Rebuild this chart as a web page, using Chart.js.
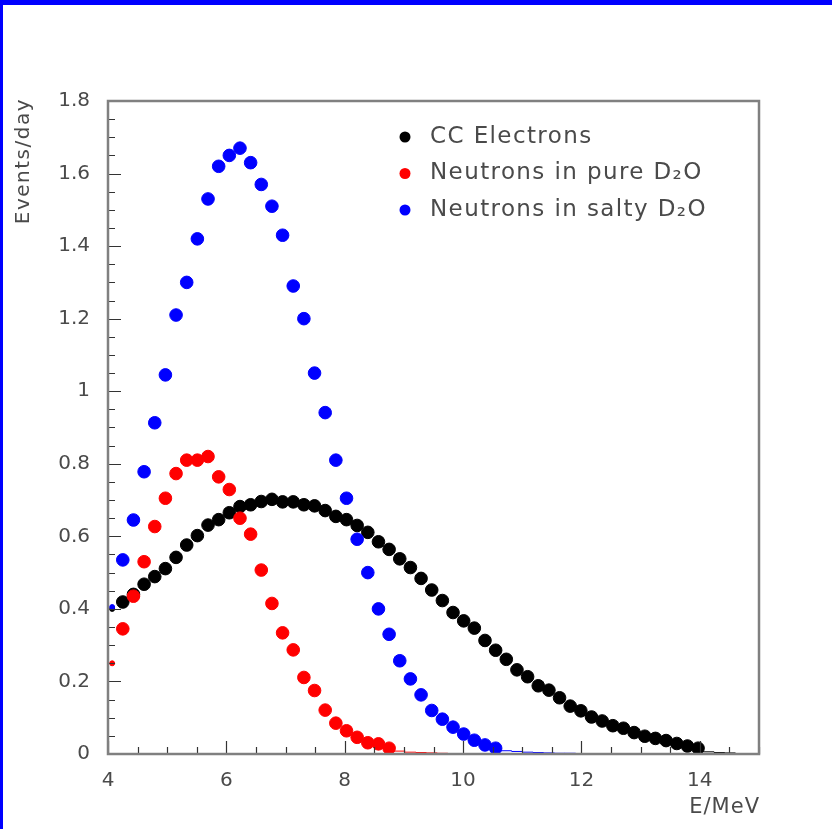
<!DOCTYPE html>
<html>
<head>
<meta charset="utf-8">
<title>Events/day vs E/MeV</title>
<script src="https://cdn.jsdelivr.net/npm/chart.js@4.4.1/dist/chart.umd.min.js"></script>
<style>
  html, body { margin: 0; padding: 0; background: #fff; }
  #page { position: relative; width: 832px; height: 829px; overflow: hidden; }
  #edge {
    position: absolute; left: 0; top: 0; right: 0; bottom: 0;
    border-top: 5px solid #0000ff; border-left: 3px solid #0000ff;
  }
  #wrap { position: absolute; left: 0; top: 0; width: 832px; height: 829px; }
</style>
</head>
<body>
<div id="page">
  <div id="edge"></div>
  <div id="wrap"><canvas id="spectrum"></canvas></div>
</div>
<script>
// bin centres in MeV, shared by the three spectra
const energies = [
  4.07, 4.25, 4.43, 4.61, 4.79, 4.97, 5.15, 5.33, 5.51, 5.69,
  5.87, 6.05, 6.23, 6.41, 6.59, 6.77, 6.95, 7.13, 7.31, 7.49,
  7.67, 7.85, 8.03, 8.21, 8.39, 8.57, 8.75, 8.93, 9.11, 9.29,
  9.47, 9.65, 9.83, 10.01, 10.19, 10.37, 10.55, 10.73, 10.91, 11.09,
  11.27, 11.45, 11.63, 11.81, 11.99, 12.17, 12.35, 12.53, 12.71, 12.89,
  13.07, 13.25, 13.43, 13.61, 13.79, 13.97, 14.15, 14.33, 14.51
];

// events/day per bin
const ccElectrons = [
  0.400, 0.419, 0.440, 0.468, 0.489, 0.511, 0.542, 0.576, 0.602, 0.631,
  0.646, 0.665, 0.682, 0.687, 0.696, 0.702, 0.695, 0.695, 0.687, 0.684,
  0.671, 0.655, 0.646, 0.630, 0.611, 0.585, 0.564, 0.538, 0.514, 0.484,
  0.452, 0.423, 0.390, 0.367, 0.347, 0.313, 0.286, 0.261, 0.232, 0.213,
  0.188, 0.176, 0.155, 0.132, 0.119, 0.102, 0.091, 0.078, 0.071, 0.059,
  0.049, 0.043, 0.037, 0.029, 0.022, 0.016, 0.006, 0.004, 0.003
];
const neutronsPure = [
  0.250, 0.345, 0.435, 0.530, 0.627, 0.705, 0.773, 0.810, 0.810, 0.820,
  0.764, 0.729, 0.650, 0.606, 0.507, 0.415, 0.334, 0.287, 0.211, 0.175,
  0.121, 0.085, 0.064, 0.046, 0.031, 0.028, 0.016, 0.008, 0.005, 0.004,
  0.003, 0.002, 0.001
];
const neutronsSalty = [
  0.405, 0.535, 0.645, 0.778, 0.913, 1.045, 1.210, 1.300, 1.420, 1.530,
  1.620, 1.650, 1.670, 1.630, 1.570, 1.510, 1.430, 1.290, 1.200, 1.050,
  0.941, 0.810, 0.705, 0.592, 0.500, 0.400, 0.330, 0.257, 0.207, 0.163,
  0.120, 0.096, 0.074, 0.055, 0.038, 0.025, 0.016, 0.009, 0.007, 0.005,
  0.004, 0.003, 0.002, 0.002, 0.001, 0.001, 0.001
];

const seriesNames = ["CC Electrons", "Neutrons in pure D\u2082O", "Neutrons in salty D\u2082O"];
const seriesColors = ["#000000", "#ff0000", "#0000ff"];

const xTicks = [4, 6, 8, 10, 12, 14];
const yTicks = [0, 0.2, 0.4, 0.6, 0.8, 1, 1.2, 1.4, 1.6, 1.8];

const FONT = "'DejaVu Sans', sans-serif";
const TEXT = "#4a4a4a";

const toPoints = (vals) => vals.map((v, i) => ({ x: energies[i], y: v }));

// tiny bins show only as a short dash, the first bin sits on the frame
const isTiny = (ctx) => ctx.dataIndex > 0 && ctx.raw && ctx.raw.y < 0.012;
const markerRadius = (ctx) => {
  if (ctx.dataIndex === 0) return 2.5;
  return isTiny(ctx) ? 5.5 : 6.3;
};
const markerStyle = (ctx) => (isTiny(ctx) ? "line" : "circle");

const makeDataset = (idx, vals, order) => ({
  label: seriesNames[idx],
  data: toPoints(vals),
  order: order,
  clip: 0,
  showLine: false,
  backgroundColor: seriesColors[idx],
  borderColor: seriesColors[idx],
  borderWidth: 1,
  pointRadius: markerRadius,
  pointStyle: markerStyle,
  pointHoverRadius: markerRadius,
});

// ROOT style frame with inward ticks, axis titles and an in-frame legend
const frameAndLegend = {
  id: "frameAndLegend",
  afterDatasetsDraw(chart) {
    const { ctx, chartArea: a, scales } = chart;
    const x = scales.x;
    const y = scales.y;
    ctx.save();

    ctx.strokeStyle = "#333";
    ctx.lineWidth = 1.2;
    ctx.beginPath();
    for (let v = 4; v <= 15.001; v += 0.5) {
      const px = Math.round(x.getPixelForValue(v)) + 0.5;
      const len = Math.abs(v % 2) < 0.001 ? 13 : 7;
      ctx.moveTo(px, a.bottom);
      ctx.lineTo(px, a.bottom - len);
    }
    for (let v = 0; v <= 1.8001; v += 0.05) {
      const py = Math.round(y.getPixelForValue(v)) + 0.5;
      const major = Math.abs(Math.round(v * 5) - v * 5) < 0.001;
      ctx.moveTo(a.left, py);
      ctx.lineTo(a.left + (major ? 13 : 7), py);
    }
    ctx.stroke();

    ctx.strokeStyle = "#808080";
    ctx.lineWidth = 2.5;
    ctx.strokeRect(a.left, a.top, a.right - a.left, a.bottom - a.top);

    // axis titles
    ctx.fillStyle = TEXT;
    ctx.textBaseline = "middle";
    ctx.textAlign = "right";
    ctx.font = "21px " + FONT;
    ctx.letterSpacing = "1px";
    ctx.fillText("E/MeV", a.right + 1, 808);
    ctx.font = "20px " + FONT;
    ctx.letterSpacing = "1.5px";
    ctx.save();
    ctx.translate(24, a.top - 3);
    ctx.rotate(-Math.PI / 2);
    ctx.fillText("Events/day", 0, 0);
    ctx.restore();

    // legend
    ctx.font = "23px " + FONT;
    ctx.letterSpacing = "1.4px";
    ctx.textAlign = "left";
    chart.data.datasets.forEach((ds, i) => {
      const rowY = 137 + i * 36.5;
      ctx.fillStyle = ds.backgroundColor;
      ctx.beginPath();
      ctx.arc(405, rowY, 5.5, 0, Math.PI * 2);
      ctx.fill();
      ctx.fillStyle = TEXT;
      ctx.fillText(ds.label, 430, rowY);
    });
    ctx.restore();
  },
};

new Chart(document.getElementById("spectrum"), {
  type: "scatter",
  data: {
    datasets: [
      makeDataset(0, ccElectrons, 3),
      makeDataset(1, neutronsPure, 2),
      makeDataset(2, neutronsSalty, 1),
    ],
  },
  options: {
    responsive: true,
    maintainAspectRatio: false,
    animation: false,
    layout: { padding: { top: 101, right: 73, left: 0, bottom: 0 } },
    scales: {
      x: {
        type: "linear",
        min: 4,
        max: 15,
        afterBuildTicks: (scale) => {
          scale.ticks = xTicks.map((v) => ({ value: v }));
        },
        afterFit: (scale) => {
          scale.height = 75;
        },
        grid: { display: false, drawTicks: false },
        border: { display: false },
        ticks: {
          color: TEXT,
          padding: 15,
          maxRotation: 0,
          font: { family: FONT, size: 20 },
          callback: (v) => String(v),
        },
      },
      y: {
        type: "linear",
        min: 0,
        max: 1.8,
        afterBuildTicks: (scale) => {
          scale.ticks = yTicks.map((v) => ({ value: v }));
        },
        afterFit: (scale) => {
          scale.width = 108;
        },
        grid: { display: false, drawTicks: false },
        border: { display: false },
        ticks: {
          color: TEXT,
          padding: 18,
          font: { family: FONT, size: 20 },
          callback: (v) => String(+v.toFixed(2)),
        },
      },
    },
    plugins: {
      legend: { display: false },
      tooltip: { enabled: false },
    },
  },
  plugins: [frameAndLegend],
});
</script>
</body>
</html>
